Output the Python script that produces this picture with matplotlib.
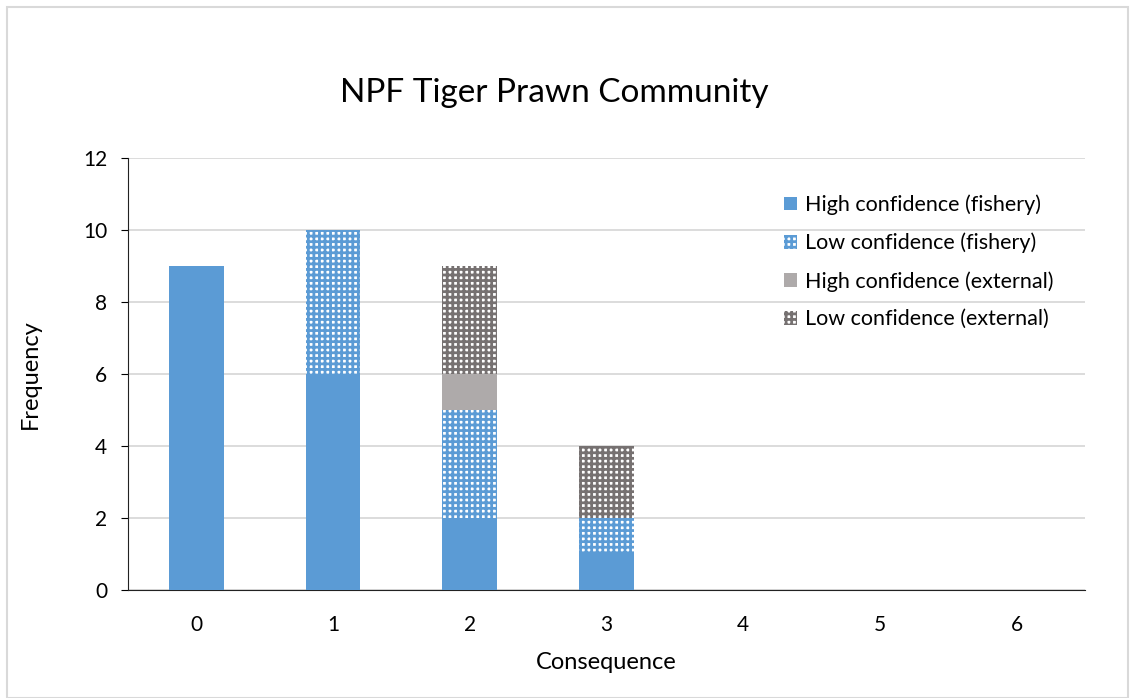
import matplotlib.pyplot as plt
import numpy as np

plt.rcParams['font.family'] = ['Lato', 'DejaVu Sans']
plt.rcParams['hatch.linewidth'] = 2.0

consequence = [0, 1, 2, 3, 4, 5, 6]
high_fishery = [9, 6, 2, 1, 0, 0, 0]
low_fishery = [0, 4, 3, 1, 0, 0, 0]
high_external = [0, 0, 1, 0, 0, 0, 0]
low_external = [0, 0, 3, 2, 0, 0, 0]

blue = '#5b9bd5'
grey = '#aeaaaa'
dark = '#767171'

fig = plt.figure(figsize=(11.33, 6.98), dpi=100)
ax = fig.add_axes([0.113, 0.1547, 0.8446, 0.619])

x = np.arange(len(consequence))
w = 0.4
b = np.zeros(len(x))
ax.bar(x, high_fishery, w, color=blue, label='High confidence (fishery)', zorder=3)
b += high_fishery
ax.bar(x, low_fishery, w, bottom=b, facecolor='white', edgecolor=blue, linewidth=0,
       hatch='+++', label='Low confidence (fishery)', zorder=3)
b += low_fishery
ax.bar(x, high_external, w, bottom=b, color=grey, label='High confidence (external)', zorder=3)
b += high_external
ax.bar(x, low_external, w, bottom=b, facecolor='white', edgecolor=dark, linewidth=0,
       hatch='+++', label='Low confidence (external)', zorder=3)

ax.set_xlim(-0.5, 6.5)
ax.set_ylim(0, 12)
ax.set_yticks(range(0, 13, 2))
ax.set_xticks(x)
ax.set_xticklabels([str(c) for c in consequence])
ax.yaxis.grid(True, color='#d9d9d9', linewidth=1.3, zorder=0)
ax.set_axisbelow(True)
for s in ['top', 'right']:
    ax.spines[s].set_visible(False)
ax.spines['left'].set_color('#222222')
ax.spines['bottom'].set_color('#222222')
ax.tick_params(axis='x', length=0, pad=18, labelsize=15)
ax.tick_params(axis='y', length=5, direction='out', labelsize=15, pad=10)

ax.set_xlabel('Consequence', fontsize=17, labelpad=12)
ax.set_ylabel('Frequency', fontsize=17, labelpad=30)
fig.text(0.489, 0.867, 'NPF Tiger Prawn Community', fontsize=24, ha='center', va='center')

ax.legend(loc='upper left', bbox_to_anchor=(0.665, 0.96), frameon=False, fontsize=15.5,
          handlelength=0.6, handleheight=0.6, handletextpad=0.4, labelspacing=0.82)

fig.patches.append(plt.Rectangle((0.006, 0.0), 0.99, 0.99, transform=fig.transFigure,
                                 fill=False, edgecolor='#d9d9d9', linewidth=1.5))

fig.savefig('out.png', dpi=100)
